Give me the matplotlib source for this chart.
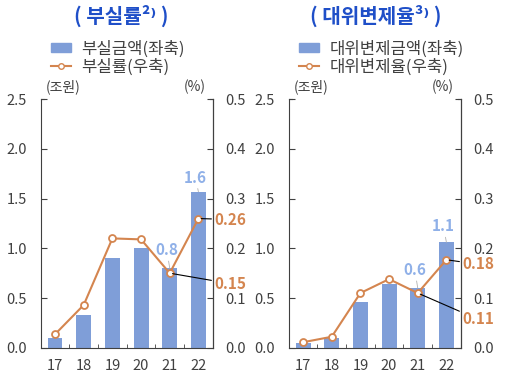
import matplotlib
matplotlib.use("Agg")
import matplotlib.pyplot as plt
from matplotlib.patches import Patch
from matplotlib.lines import Line2D

plt.rcParams['font.family'] = ['Noto Sans CJK KR', 'DejaVu Sans']

years = ["17", "18", "19", "20", "21", "22"]

# 부실률 panel
bad_amount = [0.10, 0.33, 0.90, 1.00, 0.80, 1.57]
bad_rate = [0.027, 0.086, 0.22, 0.218, 0.15, 0.26]

# 대위변제율 panel
sub_amount = [0.05, 0.10, 0.46, 0.64, 0.60, 1.06]
sub_rate = [0.011, 0.022, 0.11, 0.138, 0.11, 0.177]

bar_color = "#7f9ed8"
line_color = "#d4854f"
bar_lbl_color = "#8fb0e8"
title_color = "#1f4fc8"
txt_color = "#404040"

fig = plt.figure(figsize=(5.12, 3.81), dpi=100)


def panel(left, amount, rate, title, title_x, leg1, leg2, bar_lbls, rate_lbls):
    ax = fig.add_axes([left, 0.0874, 0.336, 0.652])
    x = list(range(len(years)))
    ax.bar(x, amount, width=0.52, color=bar_color, zorder=1)
    ax.set_xlim(-0.5, 5.5)
    ax.set_ylim(0, 2.5)
    ax.set_yticks([0, 0.5, 1.0, 1.5, 2.0, 2.5])
    ax.set_yticklabels(["0.0", "0.5", "1.0", "1.5", "2.0", "2.5"])
    ax.set_xticks(x)
    ax.set_xticklabels(years)
    ax.set_xticks([0.5, 1.5, 2.5, 3.5, 4.5], minor=True)
    ax.tick_params(axis="x", which="major", length=0, pad=8, labelsize=10.5, colors=txt_color)
    ax.tick_params(axis="x", which="minor", direction="in", length=3, color="#404040")
    ax.tick_params(axis="y", direction="in", length=4, labelsize=10.5, colors=txt_color, pad=10)
    ax.spines["top"].set_visible(False)
    for s in ["left", "bottom"]:
        ax.spines[s].set_color("#404040")

    ax2 = ax.twinx()
    ax2.plot(x, rate, color=line_color, lw=1.5, marker="o", ms=5,
             mfc="white", mec=line_color, mew=1.3, zorder=3)
    ax2.set_ylim(0, 0.5)
    ax2.set_yticks([0, 0.1, 0.2, 0.3, 0.4, 0.5])
    ax2.set_yticklabels(["0.0", "0.1", "0.2", "0.3", "0.4", "0.5"])
    ax2.tick_params(axis="y", direction="in", length=4, labelsize=10.5, colors=txt_color, pad=9)
    ax2.spines["top"].set_visible(False)
    ax2.spines["right"].set_color("#404040")
    ax2.spines["left"].set_visible(False)
    ax2.spines["bottom"].set_visible(False)

    # top caps of the side axes
    ax.plot([-0.5, -0.4], [2.5, 2.5], color="#404040", lw=0.8, clip_on=False)
    ax.plot([5.4, 5.5], [2.5, 2.5], color="#404040", lw=0.8, clip_on=False)

    ax.text(0.03, 1.02, "(조원)", transform=ax.transAxes, fontsize=10, color=txt_color,
            ha="left", va="bottom")
    ax.text(0.96, 1.02, "(%)", transform=ax.transAxes, fontsize=10, color=txt_color,
            ha="right", va="bottom")

    # bar value labels
    for i, ty in bar_lbls:
        ax.annotate(f"{amount[i]:.1f}", xy=(i, amount[i]), xytext=(i - 0.1, ty),
                    ha="center", va="center", fontsize=11, fontweight="bold",
                    color=bar_lbl_color,
                    arrowprops=dict(arrowstyle="-", color="#b0b0b0", lw=0.6,
                                    shrinkA=7, shrinkB=0))
    # rate value labels
    for i, ty, s in rate_lbls:
        ax2.annotate(s, xy=(i, rate[i]), xytext=(5.55, ty),
                     ha="left", va="center", fontsize=11, fontweight="bold",
                     color=line_color, annotation_clip=False,
                     arrowprops=dict(arrowstyle="-", color="black", lw=0.8,
                                     shrinkA=0, shrinkB=2))

    fig.text(title_x, 0.958, title, ha="center", va="center", fontsize=14.5,
             fontweight="bold", color=title_color)

    handles = [Patch(color=bar_color),
               Line2D([0], [0], color=line_color, lw=1.5, marker="o", ms=4,
                      mfc="white", mec=line_color)]
    fig.legend(handles, [leg1, leg2], loc="upper left",
               bbox_to_anchor=(left - 0.002, 0.925), frameon=False,
               handlelength=1.2, handleheight=0.45, handletextpad=0.6, labelspacing=0.05,
               labelcolor=txt_color, borderpad=0.2, prop={"size": 12})
    return ax, ax2


panel(0.0795, bad_amount, bad_rate, "( 부실률²⁾ )", 0.236, "부실금액(좌축)", "부실률(우축)",
      [(4, 0.98), (5, 1.71)], [(5, 0.258, "0.26"), (4, 0.129, "0.15")])
panel(0.5639, sub_amount, sub_rate, "( 대위변제율³⁾ )", 0.734, "대위변제금액(좌축)", "대위변제율(우축)",
      [(4, 0.78), (5, 1.22)], [(5, 0.168, "0.18"), (4, 0.057, "0.11")])

fig.savefig("out.png", dpi=100)
